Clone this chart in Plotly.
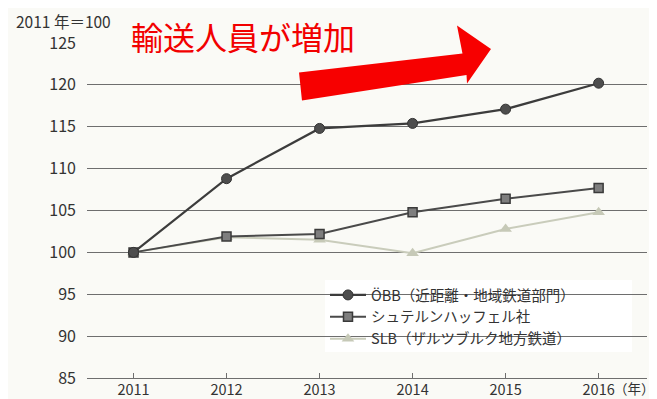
import plotly.graph_objects as go

# ---- data ----
years = [2011, 2012, 2013, 2014, 2015, 2016]
obb = [100, 108.8, 114.8, 115.4, 117.1, 120.2]
stern = [100, 101.9, 102.2, 104.8, 106.4, 107.7]
slb = [100, 101.8, 101.5, 99.9, 102.8, 104.8]
names = ["ÖBB（近距離・地域鉄道部門）", "シュテルンハッフェル社", "SLB（ザルツブルク地方鉄道）"]
y_ticks = [85, 90, 95, 100, 105, 110, 115, 120, 125]
x_tick_labels = ["2011", "2012", "2013", "2014", "2015", "2016"]

FONT = "Noto Sans CJK JP"
OFF = 8  # page body margin
WIN_W, WIN_H = 657, 399
W, H = WIN_W - OFF, WIN_H - OFF
# plot area in window pixels
L, R, T, B = 87, 647, 43, 378


def px(x):
    return (x - L) / (R - L)


def py(y):
    return (B - y) / (B - T)


fig = go.Figure()

fig.add_trace(go.Scatter(
    x=years, y=slb, name=names[2], mode="lines+markers",
    line=dict(color="#c9ccbb", width=2),
    marker=dict(symbol="triangle-up", size=11, color="#c6c9b7"),
))
fig.add_trace(go.Scatter(
    x=years, y=stern, name=names[1], mode="lines+markers",
    line=dict(color="#4a4a4a", width=2),
    marker=dict(symbol="square", size=9, color="#7e7e7e", line=dict(color="#3a3a3a", width=1.5)),
))
fig.add_trace(go.Scatter(
    x=years, y=obb, name=names[0], mode="lines+markers",
    line=dict(color="#3c3c3c", width=2.2),
    marker=dict(symbol="circle", size=10, color="#4d4d4d", line=dict(color="#333333", width=1)),
))

# arrow (decoration) in window pixel space
arrow_px = [(299, 72.5), (462.5, 53.5), (457, 25.5), (491, 49), (467, 83.5), (466.5, 75), (302, 100.5)]
path = "M " + " L ".join(f"{px(x):.4f},{py(y):.4f}" for x, y in arrow_px) + " Z"

shapes = [
    dict(type="path", xref="paper", yref="paper", path=path,
         fillcolor="#f70000", line=dict(width=0), layer="above"),
    dict(type="rect", xref="paper", yref="paper",
         x0=px(325), x1=px(632), y0=py(352), y1=py(280),
         fillcolor="#ffffff", line=dict(width=0), layer="between"),
]

annotations = [
    dict(text="2011 年＝100", xref="paper", yref="paper", x=px(14), y=py(21),
         xanchor="left", yanchor="middle", showarrow=False,
         font=dict(family=FONT, size=15.5, color="#333333")),
    dict(text="輸送人員が増加", xref="paper", yref="paper", x=px(129), y=py(36),
         xanchor="left", yanchor="middle", showarrow=False,
         font=dict(family=FONT, size=32, color="#f20000")),
    dict(text="（年）", xref="paper", yref="paper", x=px(657), y=py(388),
         xanchor="right", yanchor="middle", showarrow=False,
         font=dict(family=FONT, size=13.5, color="#333333")),
]

fig.update_layout(
    width=W, height=H,
    margin=dict(l=L - OFF, r=WIN_W - R, t=T - OFF, b=WIN_H - B, pad=0, autoexpand=False),
    paper_bgcolor="#fafaf6", plot_bgcolor="rgba(0,0,0,0)",
    font=dict(family=FONT, color="#333333"),
    showlegend=True,
    legend=dict(x=px(325), y=py(279), xanchor="left", yanchor="top",
                bgcolor="rgba(0,0,0,0)", traceorder="reversed",
                itemwidth=36, font=dict(family=FONT, size=14.5, color="#333333")),
    shapes=shapes, annotations=annotations,
)

fig.update_xaxes(
    range=[2010.5, 2016.52], tickvals=years, ticktext=x_tick_labels,
    showgrid=False, zeroline=False, automargin=False,
    showline=True, linecolor="#6e6e6e", linewidth=1.3,
    ticks="inside", ticklen=5, tickcolor="#6e6e6e", tickwidth=1,
    ticklabelstandoff=-2,
    tickfont=dict(family=FONT, size=14.5, color="#333333"),
)
fig.update_yaxes(
    range=[85, 125], tickvals=y_ticks, automargin=False,
    showgrid=True, gridcolor="#6e6e6e", gridwidth=1.3,
    zeroline=False, showline=False, ticks="",
    ticklabelstandoff=10,
    tickfont=dict(family=FONT, size=16, color="#333333"),
)

fig.write_html("out.html")
